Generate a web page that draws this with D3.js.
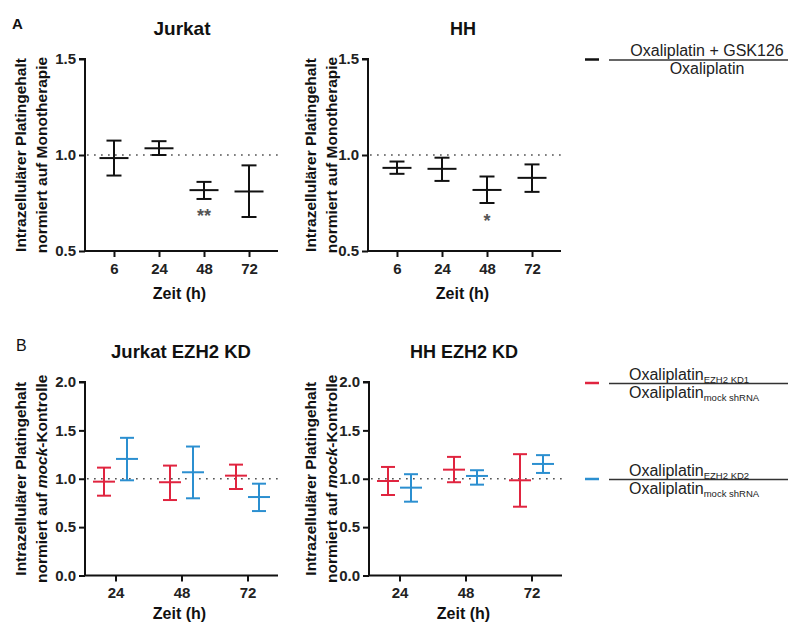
<!DOCTYPE html>
<html><head><meta charset="utf-8">
<script src="https://cdn.jsdelivr.net/npm/d3@7"></script>
<style>
html,body{margin:0;padding:0;background:#fff;}
svg{display:block;font-family:"Liberation Sans",Arial,sans-serif;}
</style></head>
<body>
<svg id="c" width="791" height="626"></svg>
<script>
// ---- data ----
const topCats = ["6", "24", "48", "72"];
const jurkatMean  = [0.984, 1.035, 0.817, 0.810];
const jurkatUpper = [1.075, 1.072, 0.860, 0.946];
const jurkatLower = [0.893, 1.000, 0.771, 0.677];
const jurkatSig   = ["", "", "**", ""];
const hhMean  = [0.933, 0.928, 0.818, 0.881];
const hhUpper = [0.966, 0.986, 0.888, 0.951];
const hhLower = [0.902, 0.865, 0.750, 0.808];
const hhSig   = ["", "", "*", ""];
const topTicks = [0.5, 1.0, 1.5];

const bottomCats = ["24", "48", "72"];
const jkd1Mean  = [0.970, 0.964, 1.032];
const jkd1Upper = [1.115, 1.136, 1.146];
const jkd1Lower = [0.825, 0.780, 0.894];
const jkd2Mean  = [1.205, 1.067, 0.811];
const jkd2Upper = [1.423, 1.333, 0.949];
const jkd2Lower = [0.984, 0.798, 0.666];
const hkd1Mean  = [0.977, 1.094, 0.984];
const hkd1Upper = [1.122, 1.226, 1.254];
const hkd1Lower = [0.832, 0.964, 0.711];
const hkd2Mean  = [0.908, 1.029, 1.153];
const hkd2Upper = [1.047, 1.088, 1.244];
const hkd2Lower = [0.763, 0.939, 1.060];
const bottomTicks = [0.0, 0.5, 1.0, 1.5, 2.0];

const RED = "#e0243f", BLUE = "#2b8fd0";
const FONT = '"Liberation Sans",Arial,sans-serif';

const svg = d3.select("#c");

function panel(opt) {
  const g = svg.append("g");
  const x = d3.scalePoint().domain(opt.cats).range([opt.x0, opt.x1]).padding(opt.pad);
  const y = d3.scaleLinear().domain(opt.ydom).range([opt.yb, opt.yt]);

  // reference dotted line at 1.0
  g.append("line").attr("x1", opt.x0 + 2).attr("x2", opt.x1 + 2)
    .attr("y1", y(1)).attr("y2", y(1))
    .attr("stroke", "#555").attr("stroke-width", 1.7)
    .attr("stroke-dasharray", "1.7,5.3");

  // axes
  const ya = g.append("g").attr("transform", `translate(${opt.x0},0)`)
    .call(d3.axisLeft(y).tickValues(opt.ticks).tickFormat(d3.format(".1f")).tickSize(6).tickPadding(3));
  const xa = g.append("g").attr("transform", `translate(0,${opt.yb})`)
    .call(d3.axisBottom(x).tickSize(6).tickPadding(6));
  [ya, xa].forEach(a => {
    a.select(".domain").attr("stroke", "#111").attr("stroke-width", 2);
    a.selectAll(".tick line").attr("stroke", "#111").attr("stroke-width", 2);
    a.selectAll(".tick text").attr("fill", "#222").style("font-family", FONT)
      .style("font-size", "15px").style("font-weight", "bold");
  });
  ya.select(".domain").attr("d", `M-6,${opt.yt}H0V${opt.yb}`);
  xa.select(".domain").attr("d", `M${opt.x0},0H${opt.x1}`);

  // series
  opt.series.forEach(s => {
    opt.cats.forEach((c, i) => {
      const cx = x(c) + s.off;
      const gg = g.append("g").attr("stroke", s.color).attr("stroke-width", 2).attr("fill", "none");
      gg.append("line").attr("x1", cx).attr("x2", cx).attr("y1", y(s.up[i])).attr("y2", y(s.lo[i]));
      gg.append("line").attr("x1", cx - s.cap).attr("x2", cx + s.cap).attr("y1", y(s.up[i])).attr("y2", y(s.up[i]));
      gg.append("line").attr("x1", cx - s.cap).attr("x2", cx + s.cap).attr("y1", y(s.lo[i])).attr("y2", y(s.lo[i]));
      gg.append("line").attr("x1", cx - s.mw).attr("x2", cx + s.mw).attr("y1", y(s.mean[i])).attr("y2", y(s.mean[i]));
      if (s.sig && s.sig[i]) {
        g.append("text").attr("x", cx).attr("y", y(s.lo[i]) + 23.5)
          .attr("text-anchor", "middle").attr("fill", "#555")
          .style("font-family", FONT).style("font-size", "18px").style("font-weight", "bold")
          .text(s.sig[i]);
      }
    });
  });

  // title
  g.append("text").attr("x", opt.tx).attr("y", opt.ty).attr("text-anchor", "middle")
    .attr("fill", "#111").style("font-family", FONT).style("font-size", opt.tfs + "px").style("font-weight", "bold")
    .text(opt.title);
  // x label
  g.append("text").attr("x", (opt.x0 + opt.x1) / 2 - 2).attr("y", opt.yb + opt.xlo).attr("text-anchor", "middle")
    .attr("fill", "#111").style("font-family", FONT).style("font-size", "16px").style("font-weight", "bold")
    .text("Zeit (h)");
  // y label (two lines)
  const yc = (opt.yt + opt.yb) / 2;
  opt.ylab.forEach((t, k) => {
    const tx = g.append("text").attr("transform", `translate(${opt.ylx[k]},${yc}) rotate(-90)`)
      .attr("text-anchor", "middle").attr("dy", "0.36em")
      .attr("fill", "#111").style("font-family", FONT).style("font-size", "15.5px").style("font-weight", "bold");
    t.forEach(part => {
      tx.append("tspan").style("font-style", part.i ? "italic" : "normal").text(part.t);
    });
  });
}

const topYLab = [[{t: "Intrazellulärer Platingehalt"}], [{t: "normiert auf Monotherapie"}]];
const botYLab = [[{t: "Intrazellulärer Platingehalt"}], [{t: "normiert auf "}, {t: "mock", i: true}, {t: "-Kontrolle"}]];

panel({cats: topCats, x0: 85, x1: 278, pad: 0.644, ydom: [0.5, 1.5], yb: 251, yt: 59, ticks: topTicks,
  title: "Jurkat", tx: 182, ty: 35, tfs: 19, xlo: 48, ylab: topYLab, ylx: [20, 41],
  series: [{mean: jurkatMean, up: jurkatUpper, lo: jurkatLower, sig: jurkatSig, color: "#111", off: 0, cap: 7.5, mw: 14.5}]});
panel({cats: topCats, x0: 368, x1: 561, pad: 0.644, ydom: [0.5, 1.5], yb: 251, yt: 59, ticks: topTicks,
  title: "HH", tx: 463, ty: 35, tfs: 18, xlo: 48, ylab: topYLab, ylx: [310, 331],
  series: [{mean: hhMean, up: hhUpper, lo: hhLower, sig: hhSig, color: "#111", off: 0, cap: 7.5, mw: 14.5}]});
panel({cats: bottomCats, x0: 85, x1: 278, pad: 0.462, ydom: [0, 2], yb: 575.5, yt: 382, ticks: bottomTicks,
  title: "Jurkat EZH2 KD", tx: 181, ty: 358, tfs: 18.5, xlo: 43, ylab: botYLab, ylx: [20, 41],
  series: [{mean: jkd1Mean, up: jkd1Upper, lo: jkd1Lower, color: RED, off: -11.5, cap: 7, mw: 11},
           {mean: jkd2Mean, up: jkd2Upper, lo: jkd2Lower, color: BLUE, off: 11.5, cap: 7, mw: 11}]});
panel({cats: bottomCats, x0: 369, x1: 562, pad: 0.462, ydom: [0, 2], yb: 575.5, yt: 382, ticks: bottomTicks,
  title: "HH EZH2 KD", tx: 464, ty: 358, tfs: 18, xlo: 43, ylab: botYLab, ylx: [310, 331],
  series: [{mean: hkd1Mean, up: hkd1Upper, lo: hkd1Lower, color: RED, off: -11.5, cap: 7, mw: 11},
           {mean: hkd2Mean, up: hkd2Upper, lo: hkd2Lower, color: BLUE, off: 11.5, cap: 7, mw: 11}]});

// panel letters
svg.append("text").attr("x", 12).attr("y", 29).attr("fill", "#111")
  .style("font-family", FONT).style("font-size", "15px").style("font-weight", "bold").text("A");
svg.append("text").attr("x", 16).attr("y", 351).attr("fill", "#111")
  .style("font-family", FONT).style("font-size", "16px").text("B");

// legends
function legendFrac(yLine, color, num, numSub, den, denSub, align) {
  const g = svg.append("g");
  g.append("line").attr("x1", 585).attr("x2", 599).attr("y1", yLine - 0.5).attr("y2", yLine - 0.5)
    .attr("stroke", color).attr("stroke-width", 2.5);
  g.append("line").attr("x1", 609).attr("x2", 788).attr("y1", yLine).attr("y2", yLine)
    .attr("stroke", "#333").attr("stroke-width", 1.3);
  const mk = (yy, main, sub) => {
    const t = g.append("text").attr("y", yy).attr("fill", "#222")
      .style("font-family", FONT).style("font-size", "16px");
    if (align === "middle") t.attr("x", 707).attr("text-anchor", "middle");
    else t.attr("x", 629);
    t.append("tspan").text(main);
    if (sub) t.append("tspan").attr("dy", 3).style("font-size", "9.5px").text(sub);
  };
  mk(yLine - 4, num, numSub);
  mk(yLine + 14, den, denSub);
}
legendFrac(60, "#111", "Oxaliplatin + GSK126", null, "Oxaliplatin", null, "middle");
legendFrac(383.5, RED, "Oxaliplatin", "EZH2 KD1", "Oxaliplatin", "mock shRNA", "start");
legendFrac(479.5, BLUE, "Oxaliplatin", "EZH2 KD2", "Oxaliplatin", "mock shRNA", "start");
</script>
</body></html>
